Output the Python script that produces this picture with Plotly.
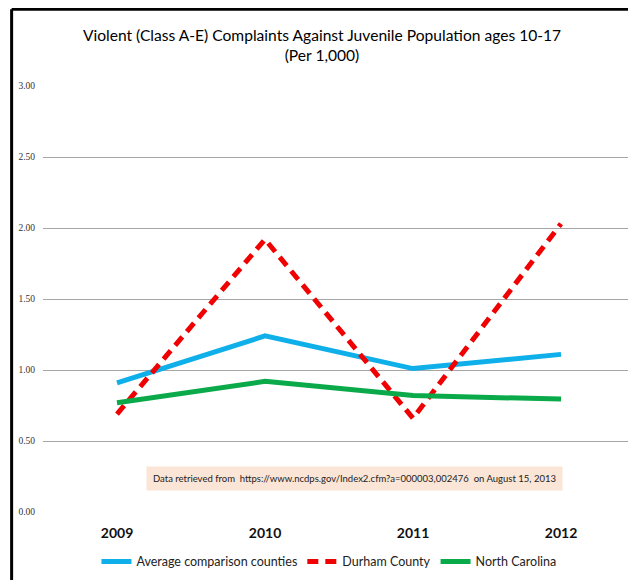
import plotly.graph_objects as go

years = ["2009", "2010", "2011", "2012"]
avg_comparison = [0.91, 1.24, 1.01, 1.11]
durham = [0.69, 1.92, 0.66, 2.03]
north_carolina = [0.77, 0.92, 0.82, 0.795]

y_ticks = [0, 0.5, 1.0, 1.5, 2.0, 2.5, 3.0]
y_tick_text = ["0.00", "0.50", "1.00", "1.50", "2.00", "2.50", "3.00"]

title_text = "Violent (Class A-E) Complaints Against Juvenile Population ages 10-17<br>(Per 1,000)"
note_text = ("Data retrieved from  https://www.ncdps.gov/Index2.cfm?a=000003,002476"
             "  on August 15, 2013")

FONT = "Lato, Liberation Sans"

fig = go.Figure()

fig.add_trace(go.Scatter(x=years, y=avg_comparison, mode="lines",
                         name="Average comparison counties",
                         line=dict(color="#0FB0EA", width=5)))
fig.add_trace(go.Scatter(x=years, y=durham, mode="lines",
                         name="Durham County",
                         line=dict(color="#F00000", width=5, dash="11px,7px")))
fig.add_trace(go.Scatter(x=years, y=north_carolina, mode="lines",
                         name="North Carolina",
                         line=dict(color="#0AAA4A", width=5)))

# page body has an 8px margin, so the figure is 8px smaller than the window
fig.update_layout(
    width=628, height=572,
    margin=dict(l=35, r=1, t=78, b=68),
    paper_bgcolor="white", plot_bgcolor="white",
    title=dict(text=title_text, x=0.5, xanchor="center", xref="container",
               y=0.943, yanchor="middle",
               font=dict(family=FONT, size=15.6, color="#000")),
    legend=dict(orientation="h", x=0.483, xanchor="center", y=-0.117, yanchor="middle",
                font=dict(family=FONT, size=12.5, color="#222"),
                itemwidth=30, tracegroupgap=0),
    showlegend=True,
)

fig.update_xaxes(type="category", range=[-0.5, 3.5], showgrid=False, zeroline=False,
                 showline=False, ticks="", ticklabelstandoff=11,
                 tickfont=dict(family=FONT, size=14, color="#111", weight="bold"))
fig.update_yaxes(range=[0, 3], tickvals=y_ticks, ticktext=y_tick_text,
                 showgrid=True, gridcolor="#A6A6A6", gridwidth=1, zeroline=False,
                 showline=False, ticks="", ticklabelstandoff=7,
                 tickfont=dict(family="Liberation Serif", size=9.5, color="#333"))

fig.add_annotation(text=note_text, xref="paper", yref="paper", x=0.526, y=0.0786,
                   xanchor="center", yanchor="middle",
                   showarrow=False, bgcolor="#FBE5D6", borderpad=6,
                   font=dict(family=FONT, size=9.5, color="#222"))

# black frame on left and top edges of the screenshot
fig.add_shape(type="line", xref="paper", yref="paper", x0=-0.053, x1=-0.053, y0=1.18, y1=-0.2,
              line=dict(color="black", width=3))
fig.add_shape(type="line", xref="paper", yref="paper", x0=-0.053, x1=1.01, y0=1.18, y1=1.18,
              line=dict(color="black", width=3))

fig.write_html("out.html")
